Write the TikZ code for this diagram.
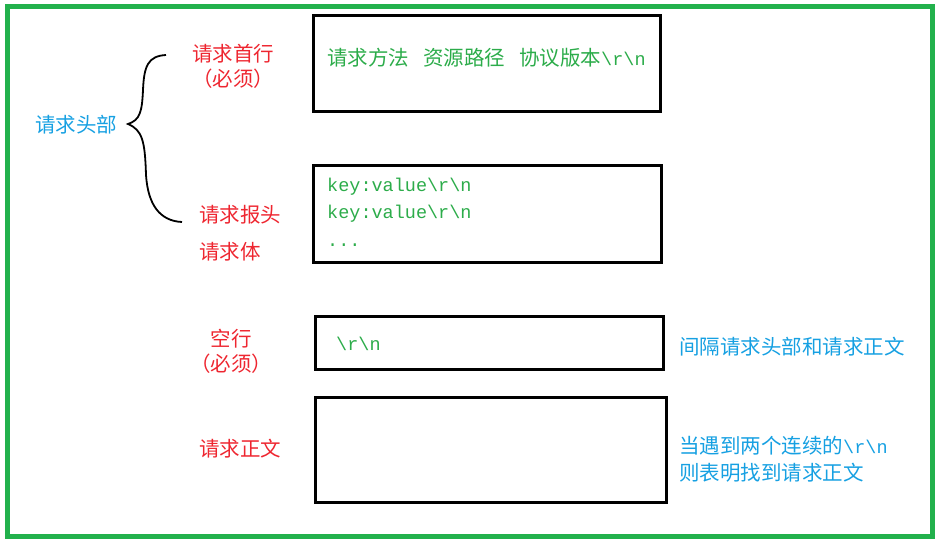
\documentclass[tikz,border=0pt]{standalone}
\usepackage{fontspec}
\setmainfont{Liberation Serif}
\setmonofont{Liberation Mono}
\newfontfamily\cjk{Noto Sans CJK SC}
\definecolor{framegreen}{RGB}{34,177,76}
\definecolor{textgreen}{RGB}{44,172,74}
\definecolor{labelred}{RGB}{238,38,48}
\definecolor{noteblue}{RGB}{22,160,226}
\tikzset{
	msgbox/.style={draw, line width=3pt, inner sep=0pt},
	partlabel/.style={text=labelred, font=\cjk\fontsize{20.5}{25}\selectfont, align=center, inner sep=0pt},
	notelabel/.style={text=noteblue, font=\cjk\fontsize{20.5}{27}\selectfont, align=left, inner sep=0pt},
	boxtext/.style={text=textgreen, font=\cjk\fontsize{20.5}{27.5}\selectfont, align=left, inner sep=0pt, anchor=west},
}
\newcommand{\crlf}{{\ttfamily\fontsize{18.5}{27.5}\selectfont\textbackslash r\textbackslash n}}
\begin{document}
\begin{tikzpicture}[x=1pt, y=-1pt]
		\useasboundingbox (0,0) rectangle (940,544);
		\draw [framegreen, line width=5pt] (7,6) rectangle (932,536);
		\node [msgbox, minimum width=347pt, minimum height=96pt] (firstline) at (486.5,63) {};
		\node [msgbox, minimum width=348pt, minimum height=97pt] (headers) at (487,213.5) {};
		\node [msgbox, minimum width=348pt, minimum height=53pt] (blankline) at (489,342.5) {};
		\node [msgbox, minimum width=351pt, minimum height=105pt] (body) at (490.5,449.5) {};
		\node [boxtext] (firsttext) at (327,58) {请求方法\hspace{14pt}资源路径\hspace{14pt}协议版本\crlf};
		\node [boxtext, font=\ttfamily\fontsize{18.5}{27.5}\selectfont] (headertext) at (327,212) {key:value\textbackslash r\textbackslash n\\key:value\textbackslash r\textbackslash n\\...};
		\node [boxtext] (blanktext) at (336,344) {\crlf};
		\node [notelabel] (headpart) at (76,125) {请求头部};
		\node [partlabel] (firstlabel) at (233,66) {请求首行\\（必须）};
		\node [partlabel, anchor=west] (headerlabel) at (199,215) {请求报头};
		\node [partlabel, anchor=west] (bodyprelabel) at (199,252) {请求体};
		\node [partlabel] (blanklabel) at (231,351) {空行\\（必须）};
		\node [partlabel] (bodylabel) at (240,449) {请求正文};
		\node [notelabel, anchor=west] (blanknote) at (679,347) {间隔请求头部和请求正文};
		\node [notelabel, anchor=west] (bodynote) at (679,459) {当遇到两个连续的\crlf\\则表明找到请求正文};
		\coordinate (bracetop) at (166,55);
		\coordinate (bracetip) at (128,124);
		\coordinate (bracebottom) at (182,222);
		\draw [line width=1.8pt] (bracetop) .. controls (148,56) and (144,66) .. (143,90)
			.. controls (142,112) and (140,120) .. (bracetip)
			.. controls (142,130) and (145,140) .. (146,175)
			.. controls (148,205) and (160,221) .. (bracebottom);
\end{tikzpicture}
\end{document}
